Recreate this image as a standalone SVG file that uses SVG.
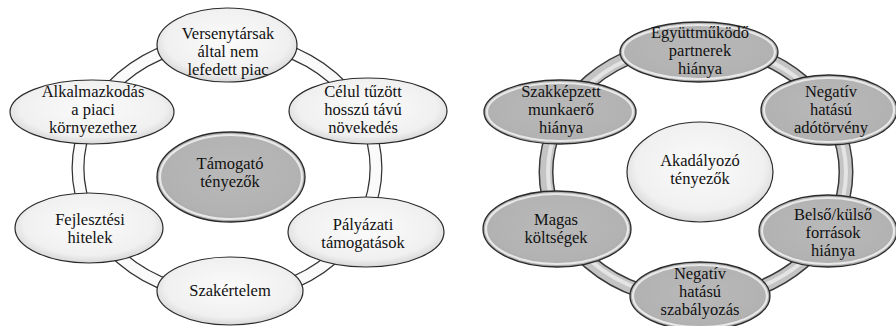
<svg xmlns="http://www.w3.org/2000/svg" width="896" height="326" viewBox="0 0 896 326">
<defs>
<radialGradient id="gLight" cx="50%" cy="45%" r="55%">
<stop offset="0" stop-color="#fbfbfb"/>
<stop offset="0.8" stop-color="#f0f0f0"/>
<stop offset="1" stop-color="#d8d8d8"/>
</radialGradient>
<radialGradient id="gGray" cx="50%" cy="45%" r="55%">
<stop offset="0" stop-color="#b9b9b9"/>
<stop offset="0.85" stop-color="#b2b2b2"/>
<stop offset="1" stop-color="#a6a6a6"/>
</radialGradient>
</defs>
<style>
.ringOut{fill:none;stroke:#333;stroke-width:13}
.ringInL{fill:none;stroke:#fafafa;stroke-width:10.5}
.ringOutR{fill:none;stroke:#3a3a3a;stroke-width:15}
.ringInR{fill:none;stroke:#c4c4c4;stroke-width:12}
.ringHiR{fill:none;stroke:#e4e4e4;stroke-width:4}
.light{fill:url(#gLight);stroke:#2a2a2a;stroke-width:1.2}
.gray{fill:url(#gGray);stroke:#2a2a2a;stroke-width:1.3}
.rim{fill:none;stroke:#e8e8e8;stroke-width:2.2}
.t{font-family:'Liberation Serif','DejaVu Serif',serif;font-size:16.5px;fill:#111;text-anchor:middle}
</style>
<g id="connectors">
<ellipse class="ringOut" cx="227" cy="168" rx="149" ry="128"/>
<ellipse class="ringInL" cx="227" cy="168" rx="149" ry="128"/>
<ellipse class="ringOutR" cx="696" cy="172" rx="150" ry="128"/>
<ellipse class="ringInR" cx="696" cy="172" rx="150" ry="128"/>
<ellipse class="ringHiR" cx="697" cy="172" rx="149" ry="127"/>
</g>
<g class="t" font-family="Liberation Serif, DejaVu Serif, serif">
<g id="left-center">
<ellipse class="gray" cx="231" cy="177" rx="74" ry="45"/>
<ellipse class="rim" cx="231" cy="177" rx="71" ry="42"/>
<text x="230" y="169">Támogató</text>
<text x="230" y="187">tényezők</text>
</g>
<g id="left-top">
<ellipse class="light" cx="227" cy="45" rx="70" ry="37"/>
<text x="228" y="39">Versenytársak</text>
<text x="228" y="57">által nem</text>
<text x="228" y="75">lefedett piac</text>
</g>
<g id="left-topright">
<ellipse class="light" cx="368" cy="111" rx="79" ry="33"/>
<text x="363" y="97">Célul tűzött</text>
<text x="363" y="115">hosszú távú</text>
<text x="363" y="133">növekedés</text>
</g>
<g id="left-bottomright">
<ellipse class="light" cx="366" cy="232" rx="78" ry="35"/>
<text x="363" y="230">Pályázati</text>
<text x="363" y="248">támogatások</text>
</g>
<g id="left-bottom">
<ellipse class="light" cx="230" cy="291" rx="73" ry="34"/>
<text x="230" y="296">Szakértelem</text>
</g>
<g id="left-bottomleft">
<ellipse class="light" cx="89" cy="228" rx="74" ry="35"/>
<text x="90" y="225">Fejlesztési</text>
<text x="90" y="243">hitelek</text>
</g>
<g id="left-topleft">
<ellipse class="light" cx="92" cy="112" rx="82" ry="32"/>
<text x="93" y="97">Alkalmazkodás</text>
<text x="93" y="115">a piaci</text>
<text x="93" y="133">környezethez</text>
</g>
<g id="right-center">
<ellipse class="light" cx="700" cy="172" rx="73" ry="50"/>
<text x="700" y="166">Akadályozó</text>
<text x="700" y="184">tényezők</text>
</g>
<g id="right-top">
<ellipse class="gray" cx="699" cy="52" rx="79" ry="30"/>
<ellipse class="rim" cx="699" cy="52" rx="76" ry="27"/>
<text x="700" y="38">Együttműködő</text>
<text x="700" y="56">partnerek</text>
<text x="700" y="74">hiánya</text>
</g>
<g id="right-topright">
<ellipse class="gray" cx="829" cy="110" rx="68" ry="35"/>
<ellipse class="rim" cx="829" cy="110" rx="65" ry="32"/>
<text x="831" y="97">Negatív</text>
<text x="831" y="115">hatású</text>
<text x="831" y="133">adótörvény</text>
</g>
<g id="right-bottomright">
<ellipse class="gray" cx="828" cy="231" rx="69" ry="36"/>
<ellipse class="rim" cx="828" cy="231" rx="66" ry="33"/>
<text x="833" y="220">Belső/külső</text>
<text x="833" y="238">források</text>
<text x="833" y="256">hiánya</text>
</g>
<g id="right-bottom">
<ellipse class="gray" cx="700" cy="296" rx="70" ry="34"/>
<ellipse class="rim" cx="700" cy="296" rx="67" ry="31"/>
<text x="700" y="279">Negatív</text>
<text x="700" y="297">hatású</text>
<text x="700" y="315">szabályozás</text>
</g>
<g id="right-bottomleft">
<ellipse class="gray" cx="557" cy="229" rx="74" ry="38"/>
<ellipse class="rim" cx="557" cy="229" rx="71" ry="35"/>
<text x="556" y="225">Magas</text>
<text x="556" y="243">költségek</text>
</g>
<g id="right-topleft">
<ellipse class="gray" cx="560" cy="112" rx="76" ry="32"/>
<ellipse class="rim" cx="560" cy="112" rx="73" ry="29"/>
<text x="561" y="97">Szakképzett</text>
<text x="561" y="115">munkaerő</text>
<text x="561" y="133">hiánya</text>
</g>
</g>
</svg>
